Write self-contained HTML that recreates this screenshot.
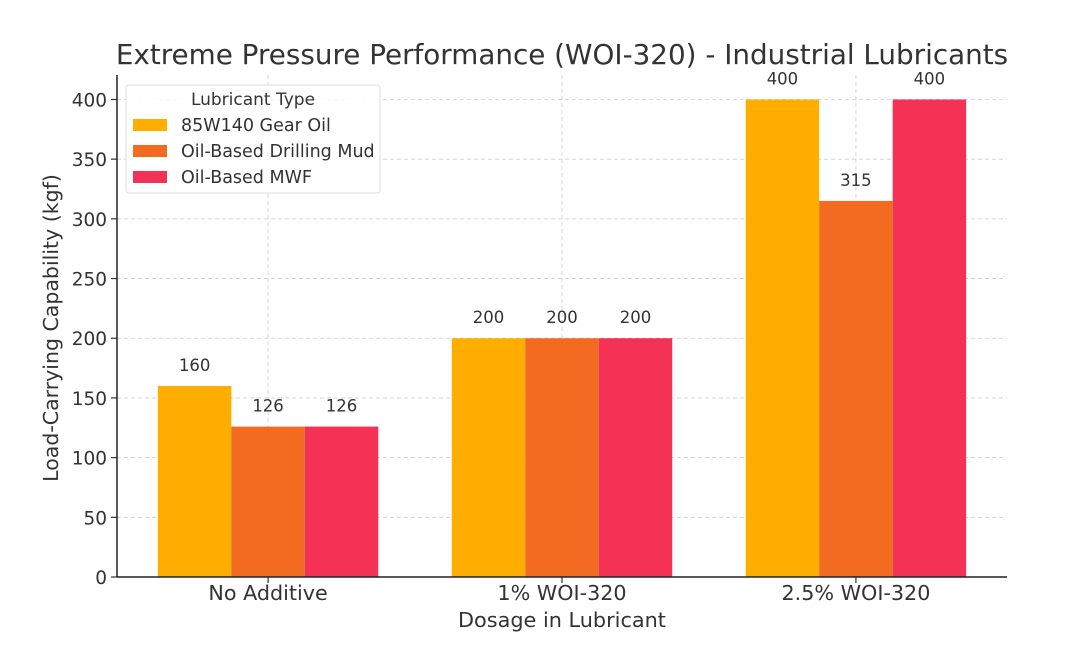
<!DOCTYPE html>
<html><head><meta charset="utf-8"><style>
body{margin:0;background:#fff;width:1071px;height:664px;overflow:hidden;font-family:"DejaVu Sans","Liberation Sans",sans-serif}
</style></head><body>
<svg id="chart" width="1071" height="664" xmlns="http://www.w3.org/2000/svg" font-family="DejaVu Sans, Liberation Sans, sans-serif">
<text x="562" y="64" font-size="27.8" text-anchor="middle" fill="#333">Extreme Pressure Performance (WOI-320) - Industrial Lubricants</text>
<g id="grid"></g><g id="bars"></g><g id="axes"></g>
<text x="562" y="627" font-size="20.8" text-anchor="middle" fill="#333">Dosage in Lubricant</text>
<text transform="translate(58,328) rotate(-90)" font-size="20.5" text-anchor="middle" fill="#333">Load-Carrying Capability (kgf)</text>
<g>
<rect x="126" y="85" width="254" height="108" rx="3" fill="#fff" fill-opacity="0.85" stroke="#ddd"/>
<text x="253" y="105" font-size="17" text-anchor="middle" fill="#333">Lubricant Type</text>
<g id="legend-entries"></g>
</g>
</svg>
<script>
const categories=["No Additive","1% WOI-320","2.5% WOI-320"];
const seriesNames=["85W140 Gear Oil","Oil-Based Drilling Mud","Oil-Based MWF"];
const gearOil=[160,200,400];
const drillingMud=[126,200,315];
const mwf=[126,200,400];
const yTicks=[0,50,100,150,200,250,300,350,400];
const series=[gearOil,drillingMud,mwf];
const colors=["#FFAE00","#F26B21","#F43255"];
const NS="http://www.w3.org/2000/svg";
const L=117,R=1007,T=75,B=577;
const y=v=>B-(v/420.5)*(B-T);
const x=c=>L+(c+0.514)*((R-L)/3.028);
const bw=0.25*(R-L)/3.028;
function mk(t,a,p){const e=document.createElementNS(NS,t);for(const k in a)e.setAttribute(k,a[k]);p.appendChild(e);return e;}
const grid=document.getElementById('grid'),bars=document.getElementById('bars'),axes=document.getElementById('axes');
yTicks.forEach(v=>{
 const g=mk('line',{x1:L,x2:R,y1:y(v),y2:y(v),stroke:'#ccc','stroke-dasharray':'4,3','stroke-width':0.8},grid);
 
 
 mk('line',{x1:L-6,x2:L,y1:y(v),y2:y(v),stroke:'#333','stroke-width':1.2},axes);
 const t=mk('text',{x:L-10,y:y(v)+7,'font-size':18.5,'text-anchor':'end',fill:'#333'},axes);
 t.textContent=v;
 
 
});
categories.forEach((c,i)=>{
 const g=mk('line',{x1:x(i),x2:x(i),y1:T,y2:B,stroke:'#ccc','stroke-dasharray':'4,3','stroke-width':0.8},grid);
 
 
 mk('line',{x1:x(i),x2:x(i),y1:B,y2:B+6,stroke:'#333','stroke-width':1.2},axes);
 const t=mk('text',{x:x(i),y:B+23,'font-size':20.7,'text-anchor':'middle',fill:'#333'},axes);
 t.textContent=c;
 
 
 series.forEach((s,j)=>{
  const bx=x(i)+(j-1.5)*bw;
  const r=mk('rect',{x:bx,y:y(s[i]),width:bw,height:B-y(s[i]),fill:colors[j]},bars);
  
  
  const lt=mk('text',{x:bx+bw/2,y:y(s[i])-15,'font-size':16.5,'text-anchor':'middle',fill:'#333'},bars);
  lt.textContent=s[i];
  
  
 });
});
mk('line',{x1:L,x2:L,y1:T,y2:B,stroke:'#222','stroke-width':1.5},axes);
mk('line',{x1:L,x2:R,y1:B,y2:B,stroke:'#222','stroke-width':1.5},axes);
const le=document.getElementById('legend-entries');
seriesNames.forEach((n,j)=>{
 const yy=119+j*26;
 const g=mk('g',{},le);
 
 
 mk('rect',{x:133,y:yy,width:34,height:12,fill:colors[j]},g);
 const t=mk('text',{x:181,y:yy+12,'font-size':17.5,fill:'#333'},g);
 t.textContent=n;
});
</script>
</body></html>
